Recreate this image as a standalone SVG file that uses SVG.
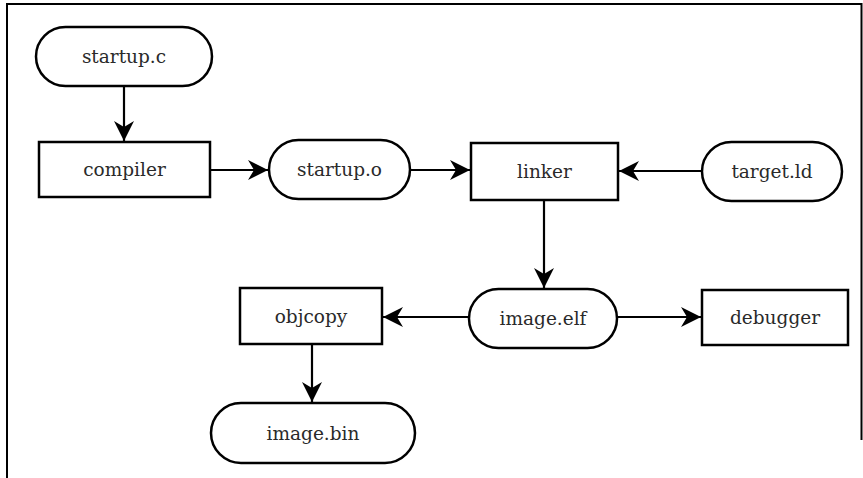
<svg xmlns="http://www.w3.org/2000/svg" width="863" height="478" viewBox="0 0 863 478">
<defs>
<style>
.n{fill:#fff;stroke:#000;stroke-width:2.5}
.e{fill:none;stroke:#000;stroke-width:2.2}
.t{font-family:"DejaVu Serif",serif;font-size:18.5px;fill:#2a2a2a;text-anchor:middle;dominant-baseline:central}
</style>
<marker id="ah" viewBox="-21 -11 23 22" refX="0" refY="0" markerWidth="23" markerHeight="22" markerUnits="userSpaceOnUse" orient="auto">
<path d="M0,0 L-20,-10 L-14,0 L-20,10 Z" fill="#000"/>
</marker>
</defs>
<rect width="863" height="478" fill="#fff"/>
<g id="frame" fill="none" stroke="#000" stroke-width="2">
<path d="M7,478 V4 H861.5 V440"/>
</g>
<g id="connectors">
<line class="e" x1="124" y1="86" x2="124" y2="141" marker-end="url(#ah)"/>
<line class="e" x1="210" y1="170" x2="268" y2="170" marker-end="url(#ah)"/>
<line class="e" x1="410" y1="170" x2="470" y2="170" marker-end="url(#ah)"/>
<line class="e" x1="702" y1="171" x2="619" y2="171" marker-end="url(#ah)"/>
<line class="e" x1="544" y1="200" x2="544" y2="288" marker-end="url(#ah)"/>
<line class="e" x1="469" y1="317" x2="383" y2="317" marker-end="url(#ah)"/>
<line class="e" x1="617" y1="317" x2="701" y2="317" marker-end="url(#ah)"/>
<line class="e" x1="312" y1="344" x2="312" y2="402" marker-end="url(#ah)"/>
</g>
<g id="startup_c"><rect class="n" x="36" y="27" width="176" height="59" rx="29.5"/><text class="t" x="124" y="56">startup.c</text></g>
<g id="compiler"><rect class="n" x="39" y="142" width="171" height="55"/><text class="t" x="124.5" y="169.5">compiler</text></g>
<g id="startup_o"><rect class="n" x="269" y="140" width="141" height="59" rx="29.5"/><text class="t" x="339.5" y="169.5">startup.o</text></g>
<g id="linker"><rect class="n" x="471" y="143" width="147" height="57"/><text class="t" x="544.5" y="171">linker</text></g>
<g id="target_ld"><rect class="n" x="702" y="142" width="140" height="59" rx="29.5"/><text class="t" x="772" y="171">target.ld</text></g>
<g id="image_elf"><rect class="n" x="469" y="289" width="148" height="59" rx="29.5"/><text class="t" x="543" y="318">image.elf</text></g>
<g id="objcopy"><rect class="n" x="240" y="288" width="142" height="56"/><text class="t" x="311" y="316">objcopy</text></g>
<g id="debugger"><rect class="n" x="702" y="290" width="146" height="55"/><text class="t" x="775" y="317">debugger</text></g>
<g id="image_bin"><rect class="n" x="211" y="403" width="204" height="60" rx="30"/><text class="t" x="313" y="433">image.bin</text></g>
</svg>
